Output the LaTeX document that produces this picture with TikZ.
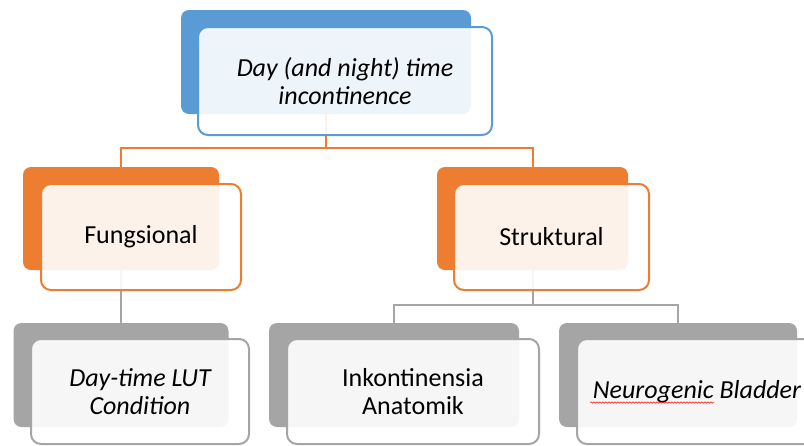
\documentclass[tikz,border=0pt]{standalone}
\usepackage{fontspec}
\setmainfont{Carlito}
\usetikzlibrary{decorations.pathmorphing}
\definecolor{cblue}{HTML}{5B9BD5}
\definecolor{corange}{HTML}{ED7D31}
\definecolor{cgray}{HTML}{A5A5A5}
\begin{document}
\begin{tikzpicture}[x=1pt,y=-1pt,
  backbox/.style={rectangle,rounded corners=8pt,inner sep=0pt,outer sep=0pt,fill=#1},
  frontbox/.style={rectangle,rounded corners=10pt,inner sep=0pt,outer sep=0pt,
    draw=#1,line width=2pt,fill=white,fill opacity=0.9,text opacity=1,
    align=center,font=\fontsize{26}{27.5}\selectfont},
  oline/.style={draw=corange,line width=2pt},
  gline/.style={draw=cgray,line width=2pt}]
\useasboundingbox (0,0) rectangle (804,445);
\clip (0,0) rectangle (804,445);
\fill[white] (0,0) rectangle (804,445);
% back boxes
\node[backbox=cblue,minimum width=290pt,minimum height=104pt] (topB) at (326,62) {};
\node[backbox=corange,minimum width=196pt,minimum height=103pt] (funB) at (121,218.5) {};
\node[backbox=corange,minimum width=191pt,minimum height=103pt] (strB) at (532.5,218.5) {};
\node[backbox=cgray,minimum width=215pt,minimum height=104pt] (dayB) at (121,375) {};
\node[backbox=cgray,minimum width=250pt,minimum height=104pt] (inkB) at (394,375) {};
\node[backbox=cgray,minimum width=238pt,minimum height=104pt] (neuB) at (678,375) {};
% connectors
\coordinate (j1) at (326,148);
\coordinate (j2) at (532.5,305);
\draw[oline] (topB.south) -- (j1);
\draw[oline] (funB.north) |- (j1) -| (strB.north);
\draw[gline] (funB.south) -- (dayB.north);
\draw[gline] (strB.south) -- (j2);
\draw[gline] (inkB.north) |- (j2) -| (neuB.north);
% front boxes
\node[frontbox=cblue,minimum width=294pt,minimum height=108pt] (topF) at (345,81) {\itshape Day (and night) time\\\itshape incontinence};
\node[frontbox=corange,minimum width=200pt,minimum height=106pt] (funF) at (141,237) {Fungsional};
\node[frontbox=corange,minimum width=195pt,minimum height=106pt] (strF) at (551.5,237) {Struktural};
\node[frontbox=cgray,minimum width=218pt,minimum height=105pt] (dayF) at (140,391.5) {\itshape Day-time LUT\\\itshape Condition};
\node[frontbox=cgray,minimum width=252pt,minimum height=105pt] (inkF) at (413,391.5) {Inkontinensia\\Anatomik};
\node[frontbox=cgray,minimum width=240pt,minimum height=105pt] (neuF) at (697,391.5) {\itshape Neurogenic Bladder};
\draw[red,line width=0.5pt,decorate,decoration={snake,amplitude=0.7pt,segment length=3pt}] (590,402.5) -- (714,402.5);
\end{tikzpicture}
\end{document}
